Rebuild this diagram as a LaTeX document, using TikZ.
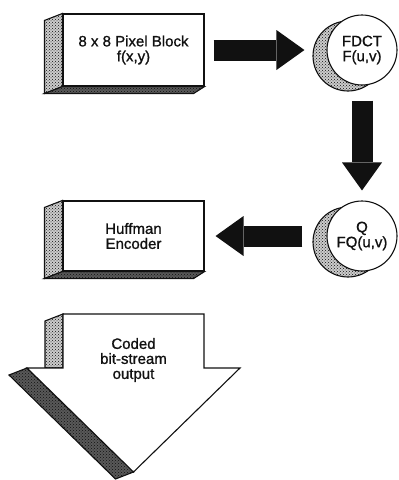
\documentclass[tikz,border=0pt]{standalone}
\usepackage{fontspec}
\setmainfont{Liberation Sans}
\newfontfamily\scanfont{Liberation Sans}[FakeBold=1]
\usetikzlibrary{arrows.meta,calc,backgrounds,patterns}
\definecolor{ink}{HTML}{111111}
\newcommand{\lbl}{\scanfont\fontsize{15}{15}\selectfont}
\tikzset{
  front/.style={draw=ink,line width=1.1pt,fill=white,text=ink},
  textdrop/.style={execute at begin node={\rule{0pt}{#1}}},
  blkbox/.style={front,rectangle,align=center,inner sep=0pt,font=\lbl,minimum width=141pt,minimum height=72pt},
  disc/.style={front,circle,align=center,inner sep=0pt,font=\lbl,minimum size=70pt},
  lite/.style={draw=ink,line width=1.1pt,preaction={fill=gray!40},pattern=crosshatch dots,pattern color=ink},
  dark/.style={draw=ink,line width=1.1pt,preaction={fill=black!65},pattern=crosshatch dots,pattern color=ink},
  bigar/.style={line width=21pt,draw=ink,-{Triangle[length=28pt,width=40pt,line width=0pt 0]}},
}
\newcommand{\slab}[1]{% side and bottom faces of a box
  \draw[lite] (#1.north west) -- ++(-18,7) -- ($(#1.south west)+(-18,7)$) -- (#1.south west) -- cycle;
  \draw[dark] (#1.south west) -- (#1.south east) -- ++(-11,7) -- ($(#1.south west)+(-18,7)$) -- cycle;}
\begin{document}
\begin{tikzpicture}[x=1pt,y=-1pt]
\useasboundingbox (0,0) rectangle (399,480);
% boxes and discs
\node[blkbox,textdrop=19pt] (blk) at (133.5,50) {8 x 8 Pixel Block\\f(x,y)};
\node[blkbox,textdrop=15pt,minimum height=70pt] (huff) at (133.5,236) {Huffman\\Encoder};
\node[disc,textdrop=13pt] (fdct) at (362,50) {FDCT\\F(u,v)};
\node[disc] (quant) at (362,236) {Q\\FQ(u,v)};
\begin{scope}[on background layer]
  \slab{blk}
  \slab{huff}
  \draw[lite] ([shift={(-14,6)}]fdct.center) circle[radius=35pt];
  \draw[lite] ([shift={(-14,6)}]quant.center) circle[radius=35pt];
\end{scope}
% output arrow
\draw[lite] (63,314) -- (45,321) -- (45,368) -- (63,368) -- cycle;
\draw[dark] (27,368) -- (133.5,472) -- (115.5,479) -- (9,375) -- cycle;
\draw[front] (63,314) -- (204,314) -- (204,368) -- (240,368) -- (133.5,472) -- (27,368) -- (63,368) -- cycle;
\node[align=center,font=\lbl,text=ink] (coded) at (133.5,360) {Coded\\bit-stream\\output};
% flow
\draw[bigar,shorten <=9pt,shorten >=22pt] (blk) -- (fdct);
\draw[bigar,shorten <=15pt,shorten >=10pt] (fdct) -- (quant);
\draw[bigar,shorten <=24pt,shorten >=11pt] (quant) -- (huff);
\end{tikzpicture}
\end{document}
